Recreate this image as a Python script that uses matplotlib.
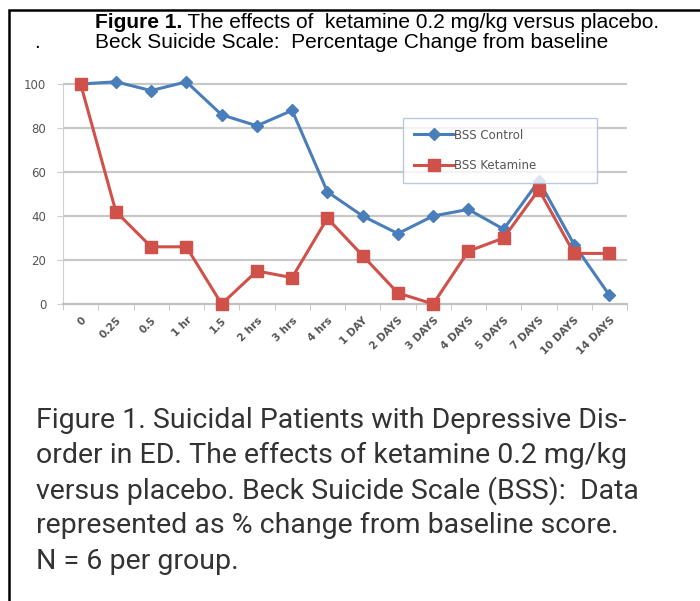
import numpy as np
import matplotlib
matplotlib.use('Agg')
import matplotlib.pyplot as plt

# Values
time_labels = ['0', '0.25', '0.5', '1 hr', '1.5', '2 hrs', '3 hrs', '4 hrs', '1 DAY',
               '2 DAYS', '3 DAYS', '4 DAYS', '5 DAYS', '7 DAYS', '10 DAYS', '14 DAYS']
bss_control = [100, 101, 97, 101, 86, 81, 88, 51, 40, 32, 40, 43, 34, 56, 27, 4]
bss_ketamine = [100, 42, 26, 26, 0, 15, 12, 39, 22, 5, 0, 24, 30, 52, 23, 23]
y_ticks = [0, 20, 40, 60, 80, 100]

W, H = 700, 601
fig = plt.figure(figsize=(W / 100, H / 100), dpi=100)

def fx(px):
    return px / W

def fy(py):
    return 1 - py / H

# background layer for border and text
bg = fig.add_axes([0, 0, 1, 1])
bg.set_xlim(0, W)
bg.set_ylim(H, 0)
bg.axis('off')
bg.plot([9, 9, W], [H, 10, 10], color='black', lw=1.8, solid_joinstyle='miter')

# header text
hfs = 15
t1 = bg.text(95, 23, 'Figure 1.', fontsize=hfs, fontweight='bold',
             family='Liberation Sans', va='center', ha='left')
bg.annotate(' The effects of  ketamine 0.2 mg/kg versus placebo.', xy=(1, 0.5),
            xycoords=t1, va='center', ha='left', fontsize=hfs, family='Liberation Sans')
bg.text(34, 43, '.', fontsize=hfs, family='Liberation Sans', va='center')
bg.text(95, 43, 'Beck Suicide Scale:  Percentage Change from baseline', fontsize=hfs,
        family='Liberation Sans', va='center', ha='left')

# caption
caption = ['Figure 1. Suicidal Patients with Depressive Dis-',
           'order in ED. The effects of ketamine 0.2 mg/kg',
           'versus placebo. Beck Suicide Scale (BSS):  Data',
           'represented as % change from baseline score.',
           'N = 6 per group.']
for i, line in enumerate(caption):
    bg.text(36, 420 + i * 35.3, line, fontsize=20.5, family='Roboto', color='#333333',
            va='center', ha='left')

# chart
left, right, top, bottom = 63, 627, 62, 304
ax = fig.add_axes([fx(left), fy(bottom), fx(right - left), (bottom - top) / H])
x = np.arange(len(time_labels))
ax.set_xlim(-0.42, 15.39)
ax.set_ylim(0, 110)

for yv in y_ticks[1:]:
    ax.axhline(yv, color='#c8c8c8', lw=1.6, zorder=1)

ax.plot(x, bss_control, color='#4a7ebb', lw=2.2, marker='D', ms=6.5,
        label='BSS Control', zorder=3, clip_on=False)
ax.plot(x, bss_ketamine, color='#d0504a', lw=2.2, marker='s', ms=8,
        label='BSS Ketamine', zorder=4, clip_on=False)

for s in ['top', 'right']:
    ax.spines[s].set_visible(False)
ax.spines['left'].set_color('#d0d0d0')
ax.spines['bottom'].set_color('#c0c0c0')
ax.spines['bottom'].set_linewidth(1.6)
ax.spines['left'].set_bounds(0, 100)

ax.set_yticks(y_ticks)
ax.set_yticklabels([str(v) for v in y_ticks], fontsize=8.5, color='#555555')
ax.set_xticks(x)
ax.set_xticklabels(time_labels, rotation=45, ha='right', rotation_mode='anchor',
                   fontsize=7.5, color='#555555', fontweight='bold')
ax.set_xticks(np.arange(-0.5, 15.6, 1), minor=True)
ax.tick_params(axis='x', which='major', length=0, pad=8)
ax.tick_params(axis='x', which='minor', length=4, color='#c0c0c0', direction='out')
ax.tick_params(axis='y', length=4, color='#d0d0d0', pad=8)

lx0 = (403 - left) / (right - left)
lx1 = (597 - left) / (right - left)
ly1 = 1 - (118 - top) / (bottom - top)
ly0 = 1 - (176 - top) / (bottom - top)
leg = ax.legend(loc='upper left', bbox_to_anchor=(lx0, ly0, lx1 - lx0, ly1 - ly0),
                mode='expand', frameon=True, fancybox=False, fontsize=8.5,
                labelspacing=1.5, handlelength=3.4, handletextpad=0.0,
                borderpad=0.9, borderaxespad=0)
leg.get_frame().set_edgecolor('#a8bcd8')
leg.get_frame().set_linewidth(1.0)
for t in leg.get_texts():
    t.set_color('#555555')

fig.savefig('out.png', dpi=100)
